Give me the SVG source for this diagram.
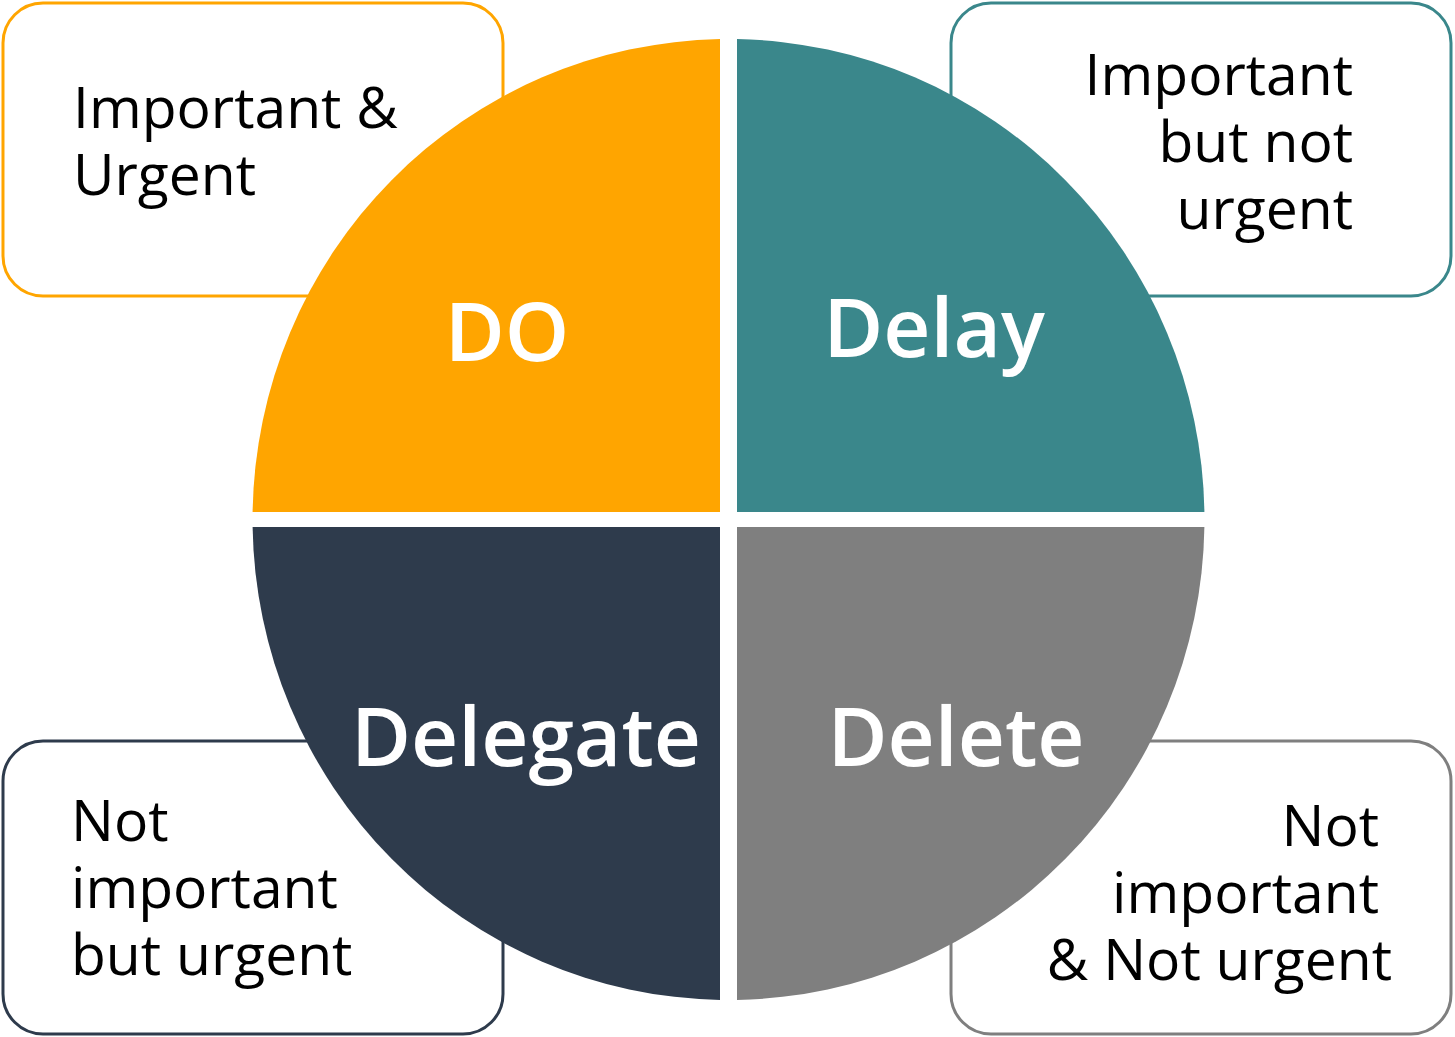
<svg xmlns="http://www.w3.org/2000/svg" width="1455" height="1037" viewBox="0 0 1455 1037">
<style>
.box{fill:#ffffff;stroke-width:3}
.lbl{font-family:"Open Sans","Noto Sans","Liberation Sans",sans-serif;font-size:57px;fill:#000000}
.big{font-family:"Open Sans","Noto Sans","Liberation Sans",sans-serif;font-size:82px;font-weight:600;fill:#ffffff;text-anchor:middle}
</style>
<rect width="1455" height="1037" fill="#ffffff"/>
<g id="box-tl"><rect class="box" x="3" y="3" width="500" height="293" rx="40" stroke="#FFA500"/>
<text class="lbl" x="73" y="128">Important &amp;</text><text class="lbl" x="73" y="195">Urgent</text></g>
<g id="box-tr"><rect class="box" x="951" y="3" width="500" height="293" rx="40" stroke="#3A878B"/>
<text class="lbl" text-anchor="end" x="1353" y="95">Important</text><text class="lbl" text-anchor="end" x="1353" y="162">but not</text><text class="lbl" text-anchor="end" x="1353" y="229">urgent</text></g>
<g id="box-bl"><rect class="box" x="3" y="741" width="500" height="293" rx="40" stroke="#2E3B4C"/>
<text class="lbl" x="71" y="841">Not</text><text class="lbl" x="71" y="908">important</text><text class="lbl" x="71" y="975">but urgent</text></g>
<g id="box-br"><rect class="box" x="951" y="741" width="500" height="293" rx="40" stroke="#7F7F7F"/>
<text class="lbl" text-anchor="end" x="1379" y="846">Not</text><text class="lbl" text-anchor="end" x="1379" y="913">important</text><text class="lbl" text-anchor="end" x="1392" y="980">&amp; Not urgent</text></g>
<g id="q-do"><path d="M720,512 L720,39.1 A476,480.5 0 0 0 252.6,512 Z" fill="#FFA500"/><text class="big" x="507" y="361">DO</text></g>
<g id="q-delay"><path d="M737,512 L737,39.1 A476,480.5 0 0 1 1204.4,512 Z" fill="#3A878B"/><text class="big" x="934" y="357">Delay</text></g>
<g id="q-delegate"><path d="M720,527 L252.6,527 A476,480.5 0 0 0 720,999.9 Z" fill="#2E3B4C"/><text class="big" x="526" y="766">Delegate</text></g>
<g id="q-delete"><path d="M737,527 L737,999.9 A476,480.5 0 0 0 1204.4,527 Z" fill="#7F7F7F"/><text class="big" x="956" y="766">Delete</text></g>
<g id="connectors"/>
</svg>
